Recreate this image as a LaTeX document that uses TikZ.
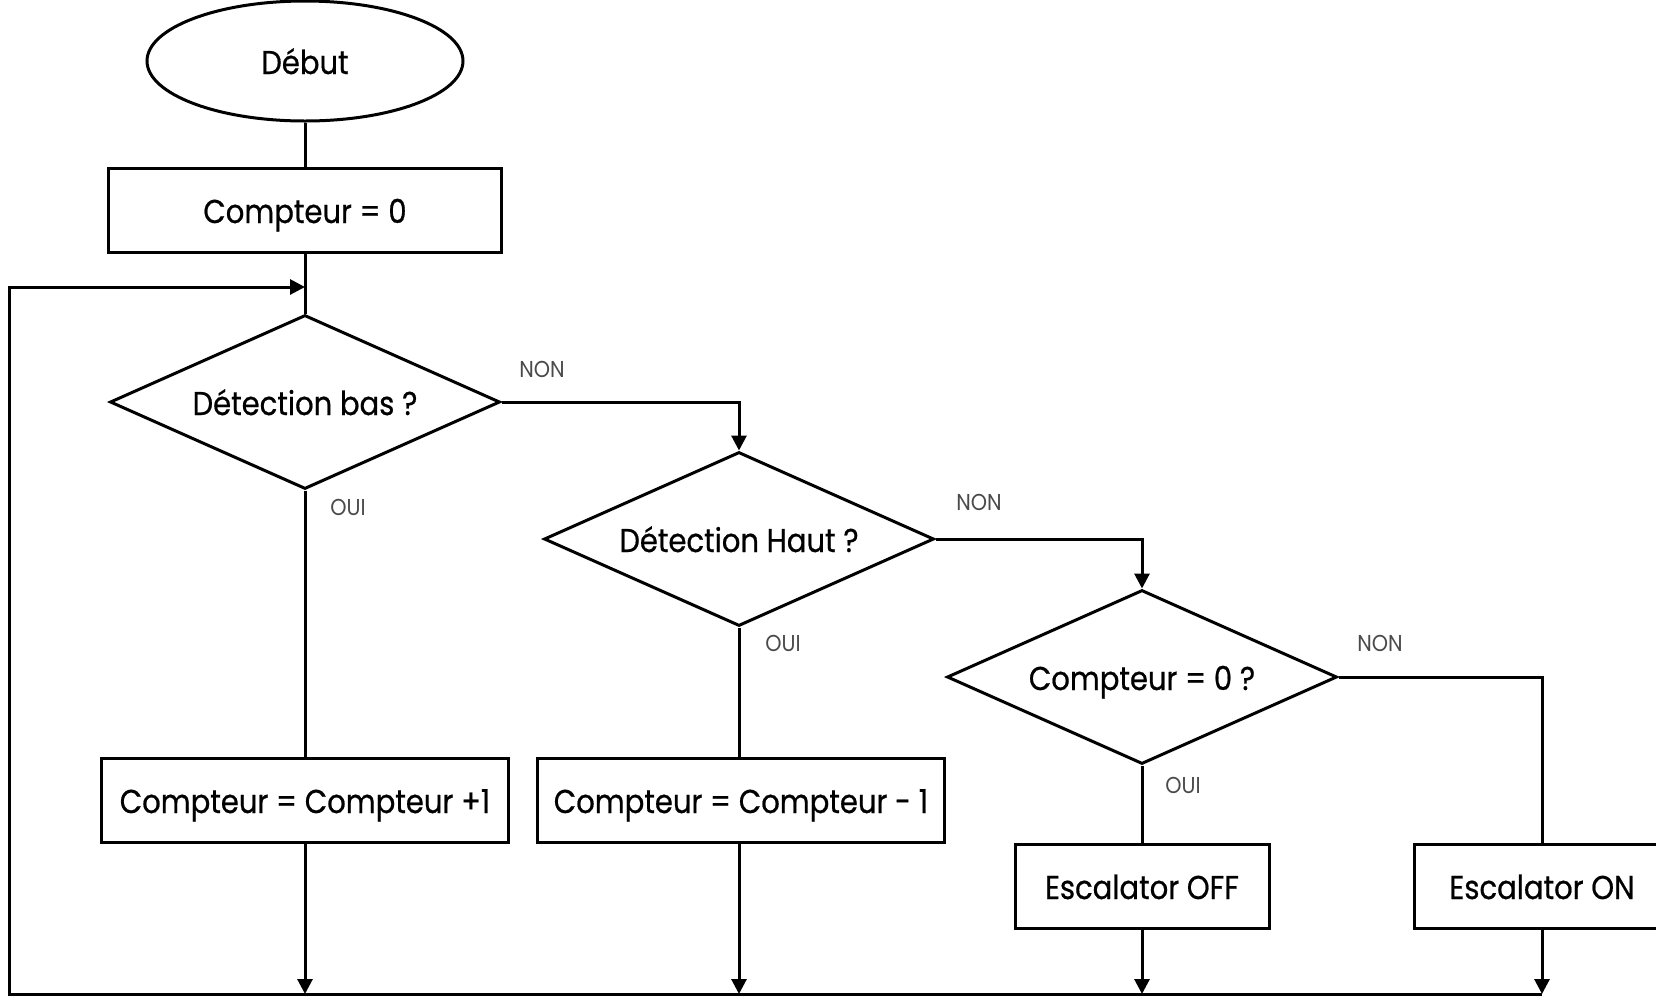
\documentclass[tikz,border=0pt]{standalone}
\usepackage{fontspec}
\setmainfont{Poppins}[FakeStretch=0.88, FakeBold=0.6]
\newfontfamily\lblfont{Poppins}[FakeStretch=0.9]
\usetikzlibrary{shapes.geometric,arrows.meta}
\definecolor{lblgray}{HTML}{4A4A4A}
\tikzset{
  base/.style={draw=black, line width=1.5pt, fill=white, inner sep=0pt, font=\fontsize{16.5}{19}\selectfont, text height=13pt, text depth=0pt},
  procbox/.style={base, rectangle, minimum height=42pt},
  decision/.style={base, diamond, aspect=2.24, minimum width=195pt, minimum height=87pt},
  startnode/.style={base, ellipse, minimum width=158pt, minimum height=60pt},
  wire/.style={line width=1.5pt, draw=black},
  arrowwire/.style={wire, -{Triangle[length=7.5pt,width=7.5pt]}},
  lbl/.style={font=\lblfont\fontsize{11.5}{13}\selectfont, text=lblgray, inner sep=0pt}
}
\begin{document}
\begin{tikzpicture}[x=0.5pt, y=-0.5pt]
\useasboundingbox (0,0) rectangle (1656,997);
% nodes
\node[startnode] (deb) at (305,61) {Début};
\node[procbox, minimum width=196.5pt] (c0) at (305,210) {Compteur = 0};
\node[decision] (d1) at (305,402) {Détection bas ?};
\node[decision] (d2) at (739,539) {Détection Haut ?};
\node[decision] (d3) at (1142,677) {Compteur = 0 ?};
\node[procbox, minimum width=203.5pt] (inc) at (305,800) {Compteur = Compteur +1};
\node[procbox, minimum width=203.5pt] (dec) at (741,800) {Compteur = Compteur - 1};
\node[procbox, minimum width=127pt] (off) at (1142,886) {Escalator OFF};
\node[procbox, minimum width=128pt] (on) at (1542,886) {Escalator ON};
% coordinates
\coordinate (j) at (305,287);
\coordinate (bl) at (9,994);
\coordinate (b1) at (305,994);
\coordinate (b2) at (739,994);
\coordinate (b3) at (1142,994);
\coordinate (b4) at (1542,994);
% connectors
\draw[wire] (deb) -- (c0);
\draw[wire] (c0) -- (d1);
\draw[arrowwire] (b4) -- (bl) |- (j);
\draw[arrowwire] (d1.east) -| (d2.north);
\draw[wire] (d1.south) -- (inc.north);
\draw[arrowwire] (inc.south) -- (b1);
\draw[arrowwire] (d2.east) -| (d3.north);
\draw[wire] (d2.south) -- (d2.south |- dec.north);
\draw[arrowwire] (dec.south -| b2) -- (b2);
\draw[wire] (d3.east) -| (on.north);
\draw[wire] (d3.south) -- (off.north);
\draw[arrowwire] (off.south) -- (b3);
\draw[arrowwire] (on.south) -- (b4);
% labels
\node[lbl] (n1) at (542,369) {NON};
\node[lbl] (o1) at (348,507) {OUI};
\node[lbl] (n2) at (979,502) {NON};
\node[lbl] (o2) at (783,643) {OUI};
\node[lbl] (n3) at (1380,643) {NON};
\node[lbl] (o3) at (1183,785) {OUI};
\end{tikzpicture}
\end{document}
